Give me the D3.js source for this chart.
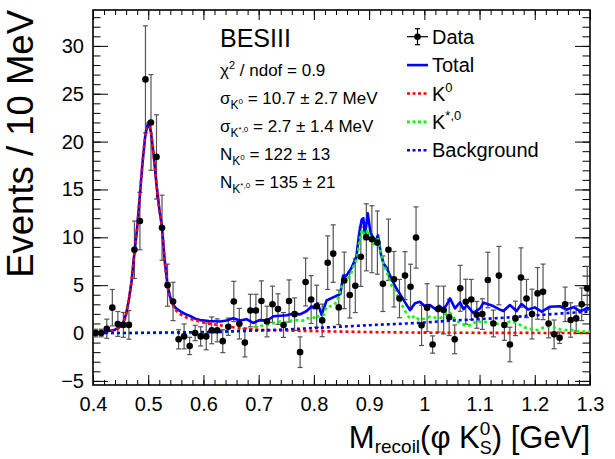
<!DOCTYPE html>
<html><head><meta charset="utf-8">
<script src="https://cdn.jsdelivr.net/npm/d3@7"></script>
<style>
body{margin:0;background:#fff}
svg{display:block}
text{font-family:"Liberation Sans",Arial,Helvetica,sans-serif;fill:#000}
</style>
</head><body>
<svg id="c" width="615" height="459"></svg>
<script>
// ---------------- data ----------------
const binCenters = [
0.405,0.415,0.425,0.435,0.445,0.455,0.465,0.475,0.485,0.495,
0.505,0.515,0.525,0.535,0.545,0.555,0.565,0.575,0.585,0.595,
0.605,0.615,0.625,0.635,0.645,0.655,0.665,0.675,0.685,0.695,
0.705,0.715,0.725,0.735,0.745,0.755,0.765,0.775,0.785,0.795,
0.805,0.815,0.825,0.835,0.845,0.855,0.865,0.875,0.885,0.895,
0.905,0.915,0.925,0.935,0.945,0.955,0.965,0.975,0.985,0.995,
1.005,1.015,1.025,1.035,1.045,1.055,1.065,1.075,1.085,1.095,
1.105,1.115,1.125,1.135,1.145,1.155,1.165,1.175,1.185,1.195,
1.205,1.215,1.225,1.235,1.245,1.255,1.265,1.275,1.285,1.295];
const counts = [
0.0,0.0,0.45,2.65,0.95,0.85,0.85,8.7,11.7,26.5,
22.0,18.4,11.0,5.0,3.3,-0.66,-0.35,-1.35,0.0,-0.35,
-0.35,0.28,0.28,-0.85,0.66,3.3,0.97,-1.0,2.35,2.35,
3.35,1.2,3.0,2.5,0.84,3.35,1.97,-2.0,5.33,3.5,
2.8,1.32,7.35,8.3,2.68,5.5,3.97,4.94,7.97,10.0,
9.8,9.45,5.15,8.7,5.62,3.6,6.0,4.84,9.98,0.8,
2.65,-1.2,2.5,2.4,1.64,-0.66,4.67,3.27,3.5,1.9,
1.98,5.54,1.0,6.0,0.84,-1.2,1.53,5.8,3.6,1.98,
4.14,4.3,1.0,-0.14,-0.49,3.0,1.36,1.53,3.0,4.67];
const errors = [
0.4,0.4,1.0,1.9,1.3,1.3,1.5,3.0,3.0,5.6,
5.0,4.4,3.4,2.2,2.0,1.0,1.3,0.9,0.8,1.0,
1.4,1.4,1.2,1.2,0.9,2.1,1.6,1.5,1.7,1.7,
2.1,1.6,1.9,1.6,1.3,2.2,1.7,1.6,2.5,2.5,
2.2,1.7,2.8,3.0,1.8,2.95,2.4,2.8,3.1,3.5,
3.5,3.3,2.9,3.2,2.9,2.0,2.5,2.35,3.2,2.1,
2.5,0.9,2.4,2.5,1.9,1.5,2.4,2.35,2.1,1.4,
1.6,2.9,1.4,3.05,1.6,1.8,1.8,3.1,2.0,2.6,
2.7,2.9,1.5,1.5,0.6,1.8,1.8,1.3,1.7,2.3];

// fit curves: [mass, events]
const totalCurve = [
[0.400,0.00],[0.420,0.10],[0.440,0.35],[0.450,0.70],[0.455,1.10],[0.460,2.00],[0.465,3.50],[0.470,5.50],
[0.475,8.40],[0.480,11.0],[0.485,14.5],[0.490,18.0],[0.495,20.8],[0.500,22.0],[0.505,21.0],[0.510,18.5],
[0.515,15.5],[0.520,13.0],[0.525,11.0],[0.530,7.5],[0.535,5.0],[0.540,3.7],[0.545,3.0],[0.550,2.6],
[0.560,2.2],[0.570,1.9],[0.576,1.78],[0.585,1.5],[0.594,1.35],[0.610,1.25],[0.630,1.2],[0.642,1.3],
[0.654,1.55],[0.666,1.3],[0.678,1.45],[0.690,1.05],[0.702,1.36],[0.715,1.3],[0.727,1.75],[0.739,1.8],
[0.751,1.85],[0.763,2.05],[0.775,1.95],[0.787,2.3],[0.796,2.8],[0.800,2.6],[0.807,3.1],[0.814,1.9],
[0.823,3.4],[0.832,3.65],[0.844,3.97],[0.848,4.1],[0.853,6.0],[0.859,6.0],[0.868,6.8],[0.877,8.0],
[0.882,10.4],[0.8865,11.85],[0.8895,12.0],[0.8925,10.1],[0.8975,12.5],[0.9025,10.5],[0.907,10.0],
[0.9115,9.6],[0.916,10.2],[0.9215,8.2],[0.926,7.3],[0.932,6.8],[0.941,5.6],[0.950,4.6],[0.959,3.8],
[0.965,3.2],[0.974,2.4],[0.983,3.1],[0.992,3.27],[1.000,2.85],[1.010,2.93],[1.020,2.5],[1.027,2.85],
[1.034,2.5],[1.040,2.9],[1.0465,3.62],[1.0555,2.58],[1.0645,3.2],[1.071,2.5],[1.077,2.9],[1.0885,2.1],
[1.101,2.58],[1.107,3.17],[1.125,2.82],[1.135,2.5],[1.143,2.3],[1.155,2.93],[1.167,2.3],[1.176,3.03],
[1.188,2.45],[1.200,2.68],[1.2125,2.23],[1.2275,2.75],[1.2455,2.8],[1.258,2.45],[1.270,2.7],[1.282,2.3],
[1.288,2.4],[1.294,2.6],[1.300,2.55]];
const k0Curve = [
[0.400,0.0],[0.420,0.08],[0.440,0.32],[0.450,0.68],[0.455,1.08],[0.460,1.98],[0.465,3.48],[0.470,5.48],
[0.475,8.38],[0.480,11.0],[0.485,14.5],[0.490,18.0],[0.495,20.8],[0.500,22.0],[0.505,21.0],[0.510,18.5],
[0.515,15.5],[0.520,13.0],[0.525,10.9],[0.530,7.4],[0.535,4.9],[0.540,3.6],[0.545,2.9],[0.550,2.4],
[0.560,1.9],[0.570,1.6],[0.580,1.4],[0.590,1.25],[0.600,1.1],[0.620,0.9],[0.640,0.72],[0.660,0.55],
[0.680,0.42],[0.700,0.34],[0.750,0.26],[0.800,0.2],[0.850,0.15],[0.900,0.1],[0.950,0.07],[1.000,0.04],
[1.100,0.02],[1.200,0.01],[1.300,0.0]];
const kstarCurve = [
[0.400,0.0],[0.600,0.0],[0.620,0.05],[0.640,0.1],[0.660,0.2],[0.680,0.35],[0.690,0.55],[0.700,0.7],
[0.710,0.8],[0.720,0.9],[0.730,1.1],[0.740,1.2],[0.750,1.1],[0.760,1.3],[0.770,1.35],[0.780,1.3],
[0.787,1.55],[0.795,1.5],[0.800,1.6],[0.806,1.9],[0.811,1.3],[0.815,1.5],[0.823,2.75],[0.830,2.8],
[0.836,2.95],[0.842,3.3],[0.848,4.5],[0.854,5.3],[0.860,5.6],[0.866,6.0],[0.872,7.0],[0.878,7.8],
[0.882,9.4],[0.886,10.6],[0.889,10.8],[0.8925,9.6],[0.897,10.8],[0.9015,9.9],[0.905,9.4],[0.911,9.2],
[0.915,10.0],[0.921,8.5],[0.926,7.2],[0.932,6.4],[0.937,5.6],[0.941,4.9],[0.950,4.0],[0.959,3.0],
[0.965,2.3],[0.974,1.5],[0.983,1.8],[0.990,1.4],[1.000,1.5],[1.010,1.7],[1.020,1.6],[1.030,1.6],
[1.040,2.0],[1.045,2.2],[1.050,1.9],[1.056,1.36],[1.065,1.0],[1.075,0.8],[1.085,0.8],[1.095,1.3],
[1.105,1.1],[1.115,1.2],[1.125,1.05],[1.135,0.9],[1.145,1.0],[1.155,1.2],[1.165,1.1],[1.175,0.8],
[1.185,0.5],[1.195,0.4],[1.205,0.3],[1.215,0.55],[1.225,0.7],[1.235,0.6],[1.245,0.4],[1.255,0.3],
[1.265,0.35],[1.275,0.2],[1.285,0.15],[1.300,0.15]];
const bkgCurve = [
[0.40,0.0],[0.45,0.0],[0.50,0.03],[0.55,0.06],[0.60,0.1],[0.65,0.18],[0.70,0.27],[0.75,0.38],
[0.80,0.52],[0.85,0.67],[0.90,0.82],[0.95,0.95],[1.00,1.1],[1.05,1.3],[1.10,1.45],[1.15,1.62],
[1.20,1.85],[1.25,2.05],[1.30,2.25]];

const xTickValues = [0.4,0.5,0.6,0.7,0.8,0.9,1.0,1.1,1.2,1.3];
const xTickLabels = ["0.4","0.5","0.6","0.7","0.8","0.9","1","1.1","1.2","1.3"];
const yTickValues = [-5,0,5,10,15,20,25,30];
const yTickLabels = ["\u22125","0","5","10","15","20","25","30"];
const legendLabels = ["Data","Total","K0","K*0","Background"];

// ---------------- layout ----------------
const L=93, R=590, T=10, B=385;
const FONT = '"Liberation Sans",Arial,Helvetica,sans-serif';
const x = d3.scaleLinear().domain([0.4,1.3]).range([L,R]);
const y = d3.scaleLinear().domain([-5.43,33.75]).range([B,T]);
const svg = d3.select("#c");

svg.append("defs").append("clipPath").attr("id","plotclip")
  .append("rect").attr("x",L).attr("y",T).attr("width",R-L).attr("height",B-T);

function finish(g, labels){
  g.select(".domain").remove();
  g.selectAll("line").attr("stroke","#000").attr("stroke-width",1);
  g.selectAll("text").attr("font-size",20).attr("font-family",FONT).attr("fill","#000");
  if(!labels) g.selectAll("text").remove();
}
const fmtX = v => xTickLabels[xTickValues.findIndex(t=>Math.abs(t-v)<1e-9)];
const fmtY = v => yTickLabels[yTickValues.findIndex(t=>Math.abs(t-v)<1e-9)];

// bottom
svg.append("g").attr("transform",`translate(0,${B})`)
  .call(d3.axisBottom(x).tickValues(x.ticks(45)).tickSize(-5).tickFormat(""))
  .call(g=>finish(g,false));
svg.append("g").attr("transform",`translate(0,${B})`)
  .call(d3.axisBottom(x).tickValues(xTickValues).tickSize(-10).tickPadding(12).tickFormat(fmtX))
  .call(g=>finish(g,true));
// top
svg.append("g").attr("transform",`translate(0,${T})`)
  .call(d3.axisBottom(x).tickValues(x.ticks(45)).tickSize(5).tickFormat(""))
  .call(g=>finish(g,false));
svg.append("g").attr("transform",`translate(0,${T})`)
  .call(d3.axisBottom(x).tickValues(xTickValues).tickSize(10).tickFormat(""))
  .call(g=>finish(g,false));
// left
svg.append("g").attr("transform",`translate(${L},0)`)
  .call(d3.axisLeft(y).tickValues(y.ticks(39)).tickSize(-7.5).tickFormat(""))
  .call(g=>finish(g,false));
svg.append("g").attr("transform",`translate(${L},0)`)
  .call(d3.axisLeft(y).tickValues(yTickValues).tickSize(-15).tickPadding(9).tickFormat(fmtY))
  .call(g=>finish(g,true));
// right
svg.append("g").attr("transform",`translate(${R},0)`)
  .call(d3.axisLeft(y).tickValues(y.ticks(39)).tickSize(7.5).tickFormat(""))
  .call(g=>finish(g,false));
svg.append("g").attr("transform",`translate(${R},0)`)
  .call(d3.axisLeft(y).tickValues(yTickValues).tickSize(15).tickFormat(""))
  .call(g=>finish(g,false));

// frame
svg.append("rect").attr("x",L).attr("y",T).attr("width",R-L).attr("height",B-T)
  .attr("fill","none").attr("stroke","#000").attr("stroke-width",1.6);

// ---------------- data points (error bars) ----------------
const pts = binCenters.map((m,i)=>({m, v:counts[i], e:errors[i]}));
const dg = svg.append("g").attr("clip-path","url(#plotclip)");
dg.selectAll("line.eb").data(pts).join("line").attr("class","eb")
  .attr("x1",d=>x(d.m)).attr("x2",d=>x(d.m))
  .attr("y1",d=>y(d.v-d.e)).attr("y2",d=>y(d.v+d.e))
  .attr("stroke","#555").attr("stroke-width",1.2);
dg.selectAll("line.cap1").data(pts).join("line").attr("class","cap1")
  .attr("x1",d=>x(d.m)-2.5).attr("x2",d=>x(d.m)+2.5)
  .attr("y1",d=>y(d.v+d.e)).attr("y2",d=>y(d.v+d.e))
  .attr("stroke","#555").attr("stroke-width",1.2);
dg.selectAll("line.cap2").data(pts).join("line").attr("class","cap2")
  .attr("x1",d=>x(d.m)-2.5).attr("x2",d=>x(d.m)+2.5)
  .attr("y1",d=>y(d.v-d.e)).attr("y2",d=>y(d.v-d.e))
  .attr("stroke","#555").attr("stroke-width",1.2);

// ---------------- curves ----------------
const cg = svg.append("g").attr("clip-path","url(#plotclip)");
const lineLin = d3.line().x(d=>x(d[0])).y(d=>y(d[1]));
const lineSmooth = d3.line().x(d=>x(d[0])).y(d=>y(d[1])).curve(d3.curveMonotoneX);
cg.append("path").attr("d",lineLin(totalCurve)).attr("fill","none")
  .attr("stroke","#0000ff").attr("stroke-width",2.6).attr("stroke-linejoin","round");
cg.append("path").attr("d",lineLin(kstarCurve)).attr("fill","none")
  .attr("stroke","#00ff00").attr("stroke-width",2.6).attr("stroke-dasharray","3,3");
cg.append("path").attr("d",lineSmooth(k0Curve)).attr("fill","none")
  .attr("stroke","#ff0000").attr("stroke-width",2.6).attr("stroke-dasharray","3,3");
cg.append("path").attr("d",lineSmooth(bkgCurve)).attr("fill","none")
  .attr("stroke","#0000ff").attr("stroke-width",2.6).attr("stroke-dasharray","3,3");

const mg = svg.append("g").attr("clip-path","url(#plotclip)");
mg.selectAll("circle").data(pts).join("circle")
  .attr("cx",d=>x(d.m)).attr("cy",d=>y(d.v)).attr("r",3.3).attr("fill","#000");

// ---------------- rich text helper ----------------
function rich(parent, px, py, parts, anchor){
  const t = parent.append("text").attr("x",px).attr("y",py)
    .attr("font-family",FONT).attr("text-anchor",anchor||"start");
  let cur = 0;
  parts.forEach(p=>{
    const s = t.append("tspan").text(p.t).attr("font-size",p.s);
    const off = p.o||0;
    if(off!==cur){ s.attr("dy",off-cur); cur=off; }
    if(p.dx) s.attr("dx",p.dx);
  });
  return t;
}

// info text
svg.append("text").attr("x",220).attr("y",47).attr("font-size",25).attr("font-family",FONT).text("BESIII");
rich(svg,220,76,[{t:"\u03c7",s:17},{t:"2",s:11,o:-7},{t:" / ndof = 0.9",s:17,o:0}]);
rich(svg,220,104,[{t:"\u03c3",s:17},{t:"K",s:12,o:5},{t:"0",s:8,o:0},{t:" = 10.7 \u00b1 2.7 MeV",s:17,o:0}]);
rich(svg,220,132,[{t:"\u03c3",s:17},{t:"K",s:12,o:5},{t:"*,0",s:8,o:0},{t:" = 2.7 \u00b1 1.4 MeV",s:17,o:0}]);
rich(svg,220,160,[{t:"N",s:17},{t:"K",s:12,o:5},{t:"0",s:8,o:0},{t:" = 122 \u00b1 13",s:17,o:0}]);
rich(svg,220,188,[{t:"N",s:17},{t:"K",s:12,o:5},{t:"*,0",s:8,o:0},{t:" = 135 \u00b1 21",s:17,o:0}]);

// ---------------- legend ----------------
const lg = svg.append("g");
const rowY = i => 36.7 + i*28.4;
const lx1 = 407, lx2 = 428, tx = 432;
legendLabels.forEach((lab,i)=>{
  const cy = rowY(i);
  if(i===0){
    lg.append("line").attr("x1",lx1).attr("x2",lx2).attr("y1",cy).attr("y2",cy).attr("stroke","#000").attr("stroke-width",1.2);
    lg.append("line").attr("x1",417.5).attr("x2",417.5).attr("y1",cy-8).attr("y2",cy+8).attr("stroke","#000").attr("stroke-width",1.2);
    lg.append("line").attr("x1",415).attr("x2",420).attr("y1",cy-8).attr("y2",cy-8).attr("stroke","#000").attr("stroke-width",1.2);
    lg.append("line").attr("x1",415).attr("x2",420).attr("y1",cy+8).attr("y2",cy+8).attr("stroke","#000").attr("stroke-width",1.2);
    lg.append("circle").attr("cx",417.5).attr("cy",cy).attr("r",3.3).attr("fill","#000");
  } else {
    const col = i===1?"#0000ff":i===2?"#ff0000":i===3?"#00ff00":"#0000ff";
    lg.append("line").attr("x1",lx1).attr("x2",lx2).attr("y1",cy).attr("y2",cy)
      .attr("stroke",col).attr("stroke-width",2.6).attr("stroke-dasharray",i===1?null:"3,2.5");
  }
  const by = cy+7;
  if(lab==="K0") rich(lg,tx,by,[{t:"K",s:20},{t:"0",s:13,o:-9}]);
  else if(lab==="K*0") rich(lg,tx,by,[{t:"K",s:20},{t:"*,0",s:13,o:-9}]);
  else lg.append("text").attr("x",tx).attr("y",by).attr("font-size",20).attr("font-family",FONT).text(lab);
});

// ---------------- axis titles ----------------
svg.append("text").attr("transform","translate(33,10) rotate(-90)")
  .attr("text-anchor","end").attr("font-size",36.5).attr("font-family",FONT)
  .text("Events / 10 MeV");
rich(svg,590,448,[
  {t:"M",s:31},{t:"recoil",s:19,o:5},{t:"(\u03c6 K",s:31,o:0},
  {t:"0",s:19,o:-13},{t:"S",s:18,o:6,dx:-10.6},{t:") [GeV]",s:31,o:0}],"end");
</script>
</body></html>
